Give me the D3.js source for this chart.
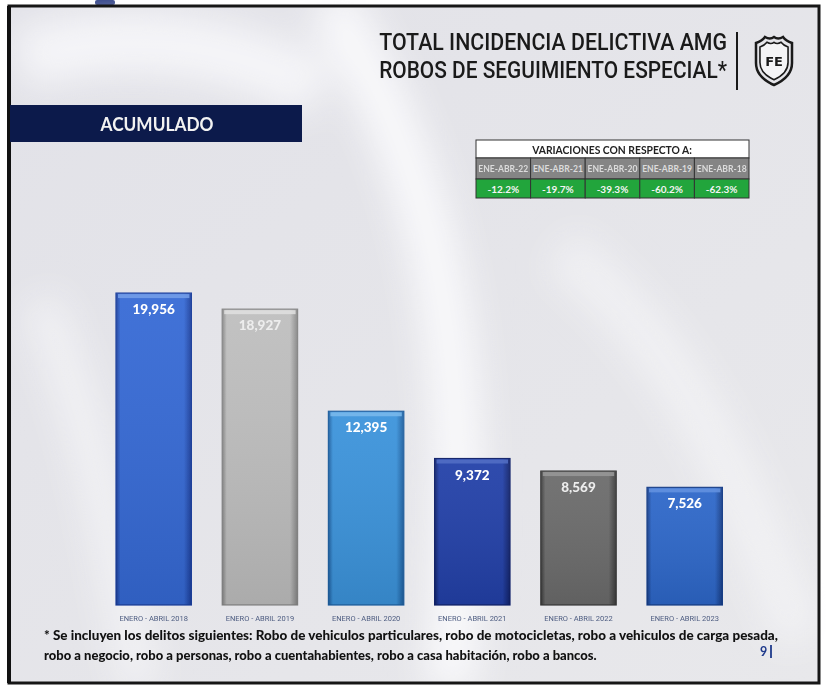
<!DOCTYPE html>
<html>
<head>
<meta charset="utf-8">
<script src="https://cdn.jsdelivr.net/npm/d3@7"></script>
<style>
  html, body { margin: 0; padding: 0; background: #fff; }
  svg { display: block; }
</style>
</head>
<body>
<div id="chart"></div>
<script>
const categories = ["ENERO - ABRIL 2018", "ENERO - ABRIL 2019", "ENERO - ABRIL 2020",
                    "ENERO - ABRIL 2021", "ENERO - ABRIL 2022", "ENERO - ABRIL 2023"];
const values = [19956, 18927, 12395, 9372, 8569, 7526];
const variationLabels = ["ENE-ABR-22", "ENE-ABR-21", "ENE-ABR-20", "ENE-ABR-19", "ENE-ABR-18"];
const variationValues = ["-12.2%", "-19.7%", "-39.3%", "-60.2%", "-62.3%"];
const titleLines = ["TOTAL INCIDENCIA DELICTIVA AMG", "ROBOS DE SEGUIMIENTO ESPECIAL*"];
const footnoteLines = [
    "* Se incluyen los delitos siguientes: Robo de vehiculos particulares, robo de motocicletas, robo a vehiculos de carga pesada,",
    "robo a negocio, robo a personas, robo a cuentahabientes, robo a casa habitación, robo a bancos."
];

// main, highlight, edge
const palette = [
    ["#3569d5", "#77a0ea", "#1c3f9c"],
    ["#bebebe", "#e0e0e0", "#858585"],
    ["#3b93db", "#7bbaec", "#1d5e9e"],
    ["#2240a8", "#5470c6", "#11226a"],
    ["#6b6b6b", "#999999", "#3a3a3a"],
    ["#2d67c9", "#6593e0", "#173e88"]
];

const W = 826, H = 686;
const svg = d3.select("#chart").append("svg")
    .attr("width", W)
    .attr("height", H);

// squeeze a text horizontally to a target width, keeping its anchor point
function fitWidth(sel, target) {
    sel.each(function () {
        const t = d3.select(this);
        const w = this.getComputedTextLength();
        const ax = +t.attr("x"), ay = +t.attr("y");
        t.attr("x", 0).attr("y", 0)
            .attr("transform", `translate(${ax},${ay}) scale(${target / w},1)`);
    });
}

const defs = svg.append("defs");
defs.append("filter").attr("id", "blur")
    .append("feGaussianBlur").attr("stdDeviation", 18);

const bg = defs.append("linearGradient").attr("id", "bg")
    .attr("x1", 0).attr("y1", 0).attr("x2", 1).attr("y2", 1);
bg.append("stop").attr("offset", "0%").attr("stop-color", "#e2e2e8");
bg.append("stop").attr("offset", "100%").attr("stop-color", "#e8e8eb");

// frame + background
svg.append("rect").attr("x", 95).attr("y", 0).attr("width", 20).attr("height", 5)
    .attr("rx", 2).attr("fill", "#1c2f7a");
svg.append("rect").attr("x", 9).attr("y", 6).attr("width", 810).attr("height", 677)
    .attr("fill", "url(#bg)");

// soft swooshes
const sw = svg.append("g").attr("filter", "url(#blur)").attr("fill", "none").attr("stroke", "#fafafc");
sw.append("path").attr("d", "M330,0 C420,160 480,300 450,690").attr("stroke-width", 50).attr("opacity", 0.95);
sw.append("path").attr("d", "M20,60 C120,30 220,40 320,90").attr("stroke-width", 60).attr("opacity", 0.8);
sw.append("path").attr("d", "M40,300 C90,420 110,520 140,690").attr("stroke-width", 40).attr("opacity", 0.6);
sw.append("path").attr("d", "M560,250 C650,320 720,420 800,640").attr("stroke-width", 50).attr("opacity", 0.55);

svg.append("rect").attr("x", 9).attr("y", 6).attr("width", 810).attr("height", 677)
    .attr("fill", "none").attr("stroke", "#161616").attr("stroke-width", 3);
svg.append("line").attr("x1", 9).attr("x2", 9).attr("y1", 6).attr("y2", 683)
    .attr("stroke", "#111").attr("stroke-width", 4);

// title
const title = svg.append("g")
    .style("font-family", "Roboto, 'Liberation Sans Narrow', sans-serif")
    .attr("fill", "#1a1a1a");
title.selectAll("text").data(titleLines).join("text")
    .attr("x", 727)
    .attr("y", (d, i) => 50 + i * 28)
    .attr("text-anchor", "end")
    .attr("font-size", 23.5)
    .attr("font-weight", 500)
    .text(d => d)
    .call(fitWidth, 348);
svg.append("line").attr("x1", 737).attr("x2", 737).attr("y1", 32).attr("y2", 90)
    .attr("stroke", "#1a1a1a").attr("stroke-width", 2);

// shield logo
const shield = svg.append("g").attr("transform", "translate(774,61)");
const shieldPath = k => `M${-18*k},${-18*k}
            Q${-12*k},${-20*k} ${-9*k},${-24*k}
            Q${-4*k},${-21*k} 0,${-24*k}
            Q${4*k},${-21*k} ${9*k},${-24*k}
            Q${12*k},${-20*k} ${18*k},${-18*k}
            L${18*k},${2*k}
            Q${18*k},${16*k} 0,${24*k}
            Q${-18*k},${16*k} ${-18*k},${2*k} Z`;
shield.append("path").attr("d", shieldPath(1)).attr("fill", "none")
    .attr("stroke", "#1a1a1a").attr("stroke-width", 2.5);
shield.append("path").attr("d", shieldPath(0.78)).attr("fill", "#f4f4f6")
    .attr("stroke", "#1a1a1a").attr("stroke-width", 1.6);
shield.append("text").attr("x", 0).attr("y", 5)
    .attr("text-anchor", "middle")
    .style("font-family", "'DejaVu Sans', sans-serif")
    .attr("font-weight", "bold").attr("font-size", 13)
    .attr("fill", "#1a1a1a").text("FE");

// ACUMULADO banner
svg.append("rect").attr("x", 10).attr("y", 105).attr("width", 292).attr("height", 37)
    .attr("fill", "#0c1a4b");
svg.append("text").attr("x", 157).attr("y", 131)
    .attr("text-anchor", "middle")
    .style("font-family", "Lato, 'Open Sans', sans-serif")
    .attr("font-weight", "bold").attr("font-size", 18)
    .attr("fill", "#f2f2f2").text("ACUMULADO")
    .call(fitWidth, 113);

// variations table
const tx = d3.scaleBand().domain(variationLabels).range([476, 749]);
const table = svg.append("g").style("font-family", "Lato, 'Open Sans', sans-serif");
table.append("rect").attr("x", 476).attr("y", 140).attr("width", 273).attr("height", 18)
    .attr("fill", "#ffffff").attr("stroke", "#333").attr("stroke-width", 1);
table.append("text").attr("x", 612).attr("y", 153.5).attr("text-anchor", "middle")
    .attr("font-weight", "bold").attr("font-size", 10.5).attr("fill", "#222")
    .text("VARIACIONES CON RESPECTO A:")
    .call(fitWidth, 160);
const cols = table.selectAll("g.col").data(variationLabels).join("g").attr("class", "col");
cols.append("rect").attr("x", d => tx(d)).attr("y", 158)
    .attr("width", tx.bandwidth()).attr("height", 21)
    .attr("fill", "#858585").attr("stroke", "#333").attr("stroke-width", 1);
cols.append("text").attr("x", d => tx(d) + tx.bandwidth() / 2).attr("y", 171.5)
    .attr("text-anchor", "middle").attr("font-weight", "bold").attr("font-size", 8.5)
    .attr("fill", "#dcdcdc")
    .text(d => d)
    .call(fitWidth, 50);
cols.append("rect").attr("x", d => tx(d)).attr("y", 179)
    .attr("width", tx.bandwidth()).attr("height", 19)
    .attr("fill", "#22a53c").attr("stroke", "#333").attr("stroke-width", 1);
cols.append("text").attr("x", d => tx(d) + tx.bandwidth() / 2).attr("y", 192.5)
    .attr("text-anchor", "middle").attr("font-weight", "bold").attr("font-size", 10)
    .attr("fill", "#f4f4f4")
    .text((d, i) => variationValues[i]);

// bars
const x = d3.scaleBand()
    .domain(categories)
    .range([100.6, 737.8])
    .paddingInner(0.29)
    .paddingOuter(0.145);
const y = d3.scaleLinear()
    .domain([0, 20000])
    .range([605, 605 - 20000 * 0.01563]);

palette.forEach((c, i) => {
    const g = defs.append("linearGradient").attr("id", "bar" + i)
        .attr("x1", 0).attr("y1", 0).attr("x2", 1).attr("y2", 0);
    g.append("stop").attr("offset", "0%").attr("stop-color", c[2]);
    g.append("stop").attr("offset", "6%").attr("stop-color", c[0]);
    g.append("stop").attr("offset", "90%").attr("stop-color", c[0]);
    g.append("stop").attr("offset", "100%").attr("stop-color", c[2]);
    const v = defs.append("linearGradient").attr("id", "shade" + i)
        .attr("x1", 0).attr("y1", 0).attr("x2", 0).attr("y2", 1);
    v.append("stop").attr("offset", "0%").attr("stop-color", "#fff").attr("stop-opacity", 0.06);
    v.append("stop").attr("offset", "100%").attr("stop-color", "#000").attr("stop-opacity", 0.1);
});

const bars = svg.append("g").selectAll("g").data(values).join("g");
bars.append("rect")
    .attr("x", (d, i) => x(categories[i]))
    .attr("y", d => y(d))
    .attr("width", x.bandwidth())
    .attr("height", d => y(0) - y(d))
    .attr("fill", (d, i) => `url(#bar${i})`)
    .attr("stroke", (d, i) => palette[i][2])
    .attr("stroke-width", 1.2);
bars.append("rect")
    .attr("x", (d, i) => x(categories[i]))
    .attr("y", d => y(d))
    .attr("width", x.bandwidth())
    .attr("height", d => y(0) - y(d))
    .attr("fill", (d, i) => `url(#shade${i})`);
bars.append("rect")
    .attr("x", (d, i) => x(categories[i]) + 2)
    .attr("y", d => y(d) + 1)
    .attr("width", x.bandwidth() - 4)
    .attr("height", 4)
    .attr("fill", (d, i) => palette[i][1])
    .attr("opacity", 0.85);
bars.append("text")
    .attr("x", (d, i) => x(categories[i]) + x.bandwidth() / 2)
    .attr("y", d => y(d) + 21)
    .attr("text-anchor", "middle")
    .style("font-family", "Lato, 'Open Sans', sans-serif")
    .attr("font-weight", 900)
    .attr("font-size", 13.5)
    .attr("fill", (d, i) => i === 1 || i === 4 ? "#ededed" : "#ffffff")
    .text(d => d3.format(",")(d));

// category axis
const xAxis = svg.append("g")
    .attr("transform", "translate(0,605)")
    .call(d3.axisBottom(x).tickSize(0).tickPadding(11));
xAxis.select(".domain").remove();
xAxis.selectAll("text")
    .style("font-family", "Roboto, 'DejaVu Sans Condensed', sans-serif")
    .attr("font-size", 7.5)
    .attr("fill", "#4d5c80");

// footnote
svg.append("g").selectAll("text").data(footnoteLines).join("text")
    .attr("x", 44)
    .attr("y", (d, i) => 640 + i * 20)
    .style("font-family", "Lato, 'Open Sans', sans-serif")
    .attr("font-weight", 900)
    .attr("font-size", 13)
    .attr("fill", "#111")
    .text(d => d)
    .each(function (d, i) { d3.select(this).call(fitWidth, i ? 553 : 735); });

// page number
svg.append("text").attr("x", 760).attr("y", 656)
    .style("font-family", "Lato, 'Open Sans', sans-serif")
    .attr("font-weight", "bold").attr("font-size", 12.5)
    .attr("fill", "#1f3a8c").text("9");
svg.append("line").attr("x1", 771).attr("x2", 771).attr("y1", 645).attr("y2", 658)
    .attr("stroke", "#1f3a8c").attr("stroke-width", 1.8);
</script>
</body>
</html>
